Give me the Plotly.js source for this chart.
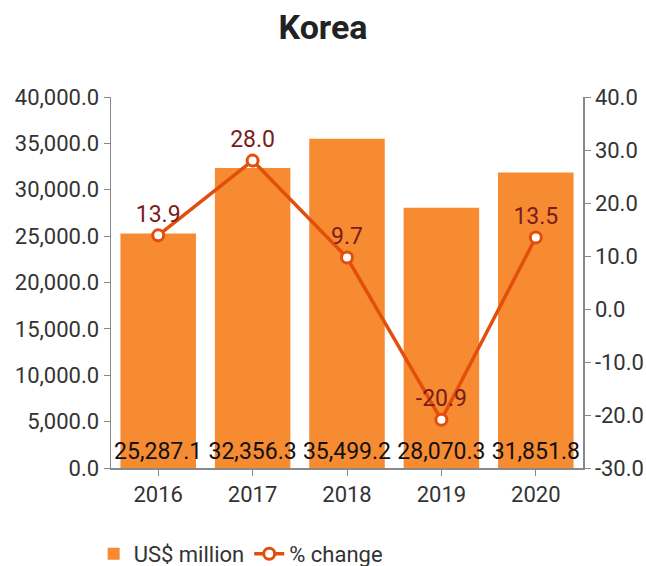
<!DOCTYPE html>
<html>
<head>
<meta charset="utf-8">
<script src="https://cdn.plot.ly/plotly-3.0.1.min.js"></script>
<style>html,body{margin:0;padding:0;background:#fff;}#chart{width:646px;height:566px;}</style>
</head>
<body>
<div id="chart"></div>
<script>
const years = ["2016", "2017", "2018", "2019", "2020"];
const usdMillion = [25287.1, 32356.3, 35499.2, 28070.3, 31851.8];
const pctChange = [13.9, 28.0, 9.7, -20.9, 13.5];
const pctTickVals = [-30, -20, -10, 0, 10, 20, 30, 40];
const pctTickText = ["-30.0", "-20.0", "-10.0", "0.0", "10.0", "20.0", "30.0", "40.0"];

const FONT = "Roboto, 'Noto Sans', sans-serif";

const bars = {
  type: "bar",
  name: "US$ million",
  x: years,
  y: usdMillion,
  marker: {color: "#f68b31"},
  texttemplate: "%{y:,.1f}",
  textposition: "inside",
  insidetextanchor: "start",
  constraintext: "none",
  textangle: 0,
  insidetextfont: {family: FONT, size: 23, color: "#111"},
  hoverinfo: "skip",
  yaxis: "y"
};

const line = {
  type: "scatter",
  mode: "lines+markers+text",
  name: "% change",
  x: years,
  y: pctChange,
  yaxis: "y2",
  line: {color: "#e24e0c", width: 3.5},
  marker: {color: "#ffffff", size: 11, line: {color: "#e24e0c", width: 3}},
  text: pctChange.map(v => v.toFixed(1)),
  textposition: "top center",
  textfont: {family: FONT, size: 23, color: "#7a1c1c"},
  cliponaxis: false
};

const axisCommon = {
  showgrid: false,
  zeroline: false,
  showline: true,
  linecolor: "#888",
  linewidth: 1.5,
  ticks: "outside",
  ticklen: 6,
  tickcolor: "#888",
  tickfont: {family: FONT, size: 22, color: "#333"}
};

const layout = {
  width: 646,
  height: 566,
  paper_bgcolor: "#fff",
  plot_bgcolor: "#fff",
  margin: {l: 111, r: 63, t: 97, b: 98, autoexpand: false},
  title: {text: "<b>Korea</b>", font: {family: FONT, size: 34, color: "#222"}, x: 0.5, xanchor: "center", y: 0.953, yanchor: "middle"},
  bargap: 0.2,
  showlegend: true,
  legend: {orientation: "h", xref: "container", x: 0.145, xanchor: "left", yref: "paper", y: -0.175, yanchor: "top", font: {family: FONT, size: 22, color: "#333"}, itemsizing: "trace"},
  xaxis: Object.assign({}, axisCommon, {type: "category"}),
  yaxis: Object.assign({}, axisCommon, {range: [0, 40000], dtick: 5000, tickformat: ",.1f"}),
  yaxis2: Object.assign({}, axisCommon, {overlaying: "y", side: "right", range: [-30, 40], tickmode: "array", tickvals: pctTickVals, ticktext: pctTickText, ticklabelstandoff: 0})
};

Plotly.newPlot("chart", [bars, line], layout, {displayModeBar: false, staticPlot: true});
</script>
</body>
</html>
